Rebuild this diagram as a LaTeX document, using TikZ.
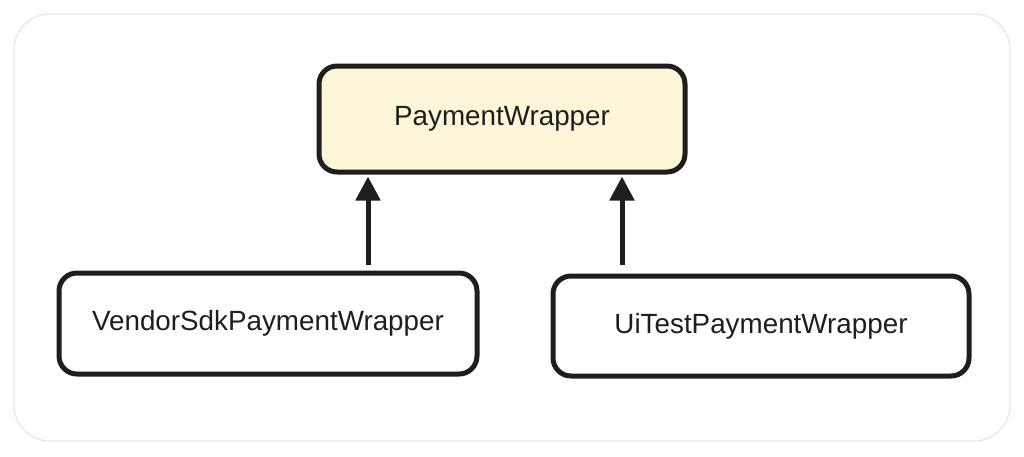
\documentclass[tikz,border=0pt]{standalone}
\usepackage{fontspec}
\setmainfont{Liberation Sans}
\usetikzlibrary{arrows.meta}

\definecolor{framegray}{HTML}{E6E6E6}
\definecolor{wrapfill}{HTML}{FDF6D8}
\definecolor{inkblack}{HTML}{1E1E1E}

\begin{document}
\begin{tikzpicture}[x=1pt,y=-1pt,
    classbox/.style={draw=inkblack, line width=5pt, rounded corners=18pt, fill=white,
        font=\fontsize{27.8}{32}\selectfont, text=inkblack, inner sep=0pt},
    inherit/.style={draw=inkblack, line width=5pt, -{Triangle[length=24pt,width=24pt]}, shorten >=2pt}]
\useasboundingbox (0,0) rectangle (1024,456);
\draw[framegray, line width=1.2pt, rounded corners=36pt] (14,14) rectangle (1010,441);
\node[classbox, fill=wrapfill, minimum width=366pt, minimum height=106pt] (wrap) at (502,119) {PaymentWrapper};
\node[classbox, minimum width=418pt, minimum height=101pt] (vendor) at (268,323.5) {VendorSdkPaymentWrapper};
\node[classbox, minimum width=416pt, minimum height=100pt] (uitest) at (761,326) {UiTestPaymentWrapper};
\begin{scope}
    \coordinate (vtail) at (368,265);
    \coordinate (utail) at (622,265);
    \draw[inherit] (vtail) -- (vtail |- wrap.south);
    \draw[inherit] (utail) -- (utail |- wrap.south);
\end{scope}
\end{tikzpicture}
\end{document}
